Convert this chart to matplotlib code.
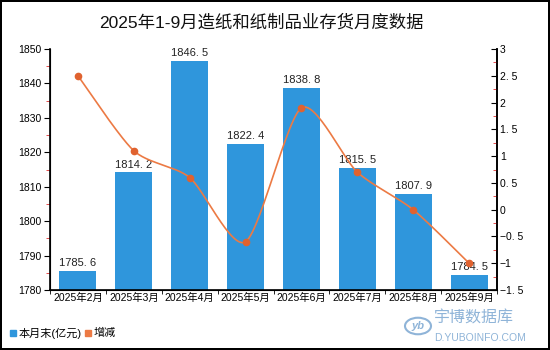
import numpy as np
import matplotlib
matplotlib.use("Agg")
import matplotlib.pyplot as plt
from matplotlib.ticker import MultipleLocator, FuncFormatter
from matplotlib.patches import Circle

plt.rcParams['font.family'] = ['Liberation Sans', 'Noto Sans CJK SC', 'DejaVu Sans']

months = ["2025年2月", "2025年3月", "2025年4月", "2025年5月",
          "2025年6月", "2025年7月", "2025年8月", "2025年9月"]
stock = [1785.6, 1814.2, 1846.5, 1822.4, 1838.8, 1815.5, 1807.9, 1784.5]
change = [2.5, 1.1, 0.6, -0.6, 1.9, 0.7, 0.0, -1.0]

bar_color = "#2f96dc"
line_color = "#ec7a44"
dot_color = "#e0622f"


def smooth(x, y, n=30, t=0.38):
    # cardinal spline through the points, for drawing only
    x = np.asarray(x, float)
    y = np.asarray(y, float)
    px = np.concatenate([[x[0]], x, [x[-1]]])
    py = np.concatenate([[y[0]], y, [y[-1]]])
    xs, ys = [], []
    for i in range(1, len(px) - 2):
        m1x = (px[i + 1] - px[i - 1]) * t
        m1y = (py[i + 1] - py[i - 1]) * t
        m2x = (px[i + 2] - px[i]) * t
        m2y = (py[i + 2] - py[i]) * t
        s = np.linspace(0, 1, n)
        h1 = 2 * s**3 - 3 * s**2 + 1
        h2 = -2 * s**3 + 3 * s**2
        h3 = s**3 - 2 * s**2 + s
        h4 = s**3 - s**2
        xs.append(h1 * px[i] + h2 * px[i + 1] + h3 * m1x + h4 * m2x)
        ys.append(h1 * py[i] + h2 * py[i + 1] + h3 * m1y + h4 * m2y)
    return np.concatenate(xs), np.concatenate(ys)


def fmt_num(v, pos=None):
    s = ("%.1f" % v).rstrip("0").rstrip(".") if v != int(v) else "%d" % v
    return s.replace(".", ". ").replace("-", "\u2212")


fig = plt.figure(figsize=(5.5, 3.5), dpi=100)
fig.patch.set_edgecolor("black")
fig.patch.set_linewidth(1.5)
ax = fig.add_axes([50 / 550, 1 - 290 / 350, 447 / 550, 241 / 350])
x = np.arange(len(months))

bars = ax.bar(x, stock, width=0.66, color=bar_color, zorder=2)
for xi, v in zip(x, stock):
    ax.text(xi, v + 0.8, ("%.1f" % v).replace(".", ". "), ha="center", va="bottom",
            fontsize=8, color="#222222")

ax.set_ylim(1780, 1850)
ax.set_xlim(-0.5, len(months) - 0.5)
ax.yaxis.set_major_locator(MultipleLocator(10))
ax.yaxis.set_minor_locator(MultipleLocator(5))
ax.tick_params(axis="y", which="major", length=4, labelsize=7.5, color="black", pad=2)
ax.tick_params(axis="y", which="minor", length=3, color="#e03030")
ax.set_xticks(x)
ax.set_xticklabels(months)
ax.set_xticks(np.arange(len(months) + 1) - 0.5, minor=True)
ax.tick_params(axis="x", which="major", length=0, labelsize=7.5, pad=2)
ax.tick_params(axis="x", which="minor", length=3)
ax.spines["top"].set_visible(False)
for s in ["left", "bottom", "right"]:
    ax.spines[s].set_linewidth(1.2)

ax2 = ax.twinx()
ax2.set_ylim(-1.5, 3)
ax2.yaxis.set_major_locator(MultipleLocator(0.5))
ax2.yaxis.set_minor_locator(MultipleLocator(0.25))
ax2.yaxis.set_major_formatter(FuncFormatter(fmt_num))
ax2.tick_params(axis="y", which="major", direction="in", length=4, labelsize=7.5, pad=2)
ax2.tick_params(axis="y", which="minor", direction="in", length=3, color="#e03030")
ax2.spines["top"].set_visible(False)
ax2.spines["right"].set_linewidth(1.2)
sx, sy = smooth(x, change)
ax2.plot(sx, sy, color=line_color, linewidth=1.2, zorder=3)
ax2.plot(x, change, "o", color=dot_color, markersize=4.5, zorder=4)

fig.text(261 / 550, 1 - 22 / 350, "2025年1-9月造纸和纸制品业存货月度数据", ha="center", va="center",
         fontsize=12.5, color="#111111")

# legend
fig.patches.append(plt.Rectangle((10 / 550, 1 - 336 / 350), 6 / 550, 6 / 350,
                                 transform=fig.transFigure, color=bar_color))
fig.text(19 / 550, 1 - 333 / 350, "本月末(亿元)", va="center", fontsize=8)
fig.patches.append(plt.Rectangle((85 / 550, 1 - 336 / 350), 6 / 550, 6 / 350,
                                 transform=fig.transFigure, color=line_color))
fig.text(94 / 550, 1 - 333 / 350, "增减", va="center", fontsize=8)

# watermark
wm = "#8fb4d8"
fig.patches.append(Circle((418 / 550, 1 - 326 / 350), 13 / 550, transform=fig.transFigure,
                          fill=False, edgecolor=wm, linewidth=1.5))
fig.text(418 / 550, 1 - 326 / 350, "yb", ha="center", va="center", fontsize=8,
         color=wm, style="italic", fontweight="bold")
fig.text(434 / 550, 1 - 318 / 350, "宇博数据库", va="center", fontsize=11.5, color=wm)
fig.text(434 / 550, 1 - 338 / 350, "D.YUBOINFO.COM", va="center", fontsize=7.5, color=wm)

fig.savefig("out.png", dpi=100)
